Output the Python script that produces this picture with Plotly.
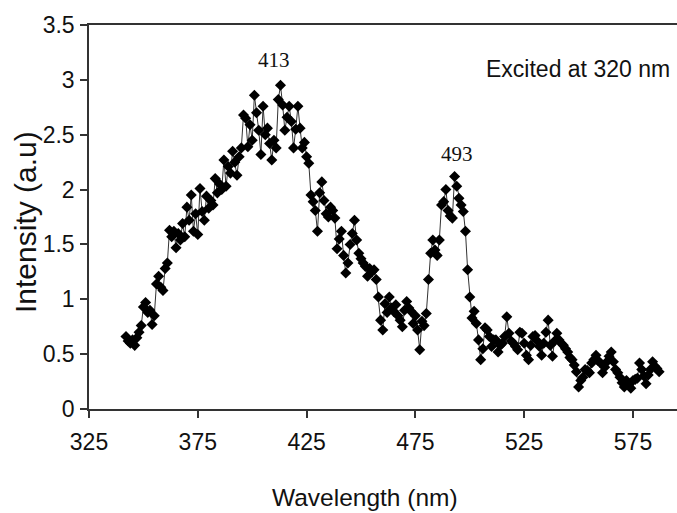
import plotly.graph_objects as go

wavelength = list(range(342, 588))
intensity = [
    0.66, 0.62, 0.60, 0.63, 0.58, 0.65, 0.70, 0.76, 0.93, 0.97,
    0.88, 0.90, 0.77, 0.85, 1.14, 1.21, 1.11, 1.08, 1.28, 1.33,
    1.63, 1.57, 1.62, 1.47, 1.60, 1.54, 1.69, 1.57, 1.84, 1.72,
    1.95, 1.62, 1.78, 1.59, 2.01, 1.80, 1.72, 1.94, 1.83, 1.90,
    1.86, 2.10, 1.97, 2.05, 2.00, 2.27, 2.03, 2.21, 2.15, 2.35,
    2.25, 2.13, 2.30, 2.38, 2.68, 2.65, 2.39, 2.59, 2.45, 2.86,
    2.70, 2.54, 2.32, 2.76, 2.50, 2.56, 2.42, 2.27, 2.45, 2.38,
    2.82, 2.95, 2.77, 2.54, 2.66, 2.76, 2.62, 2.38, 2.55, 2.76,
    2.56, 2.38, 2.43, 2.30, 2.24, 1.95, 1.89, 1.81, 1.62, 1.97,
    2.07, 1.90, 1.78, 1.75, 1.84, 1.81, 1.74, 1.46, 1.55, 1.62,
    1.40, 1.24, 1.33, 1.50, 1.60, 1.72, 1.54, 1.42, 1.37, 1.33,
    1.30, 1.21, 1.28, 1.25, 1.27, 1.18, 1.02, 0.81, 0.72, 0.96,
    0.88, 1.02, 0.92, 0.89, 0.95, 0.85, 0.81, 0.75, 0.90, 0.98,
    0.92, 0.89, 0.78, 0.85, 0.72, 0.54, 0.80, 0.76, 0.87, 1.18,
    1.42, 1.54, 1.45, 1.40, 1.54, 1.86, 1.89, 2.00, 1.81, 1.76,
    1.74, 2.12, 2.03, 1.92, 1.86, 1.80, 1.62, 1.27, 1.02, 0.83,
    0.89, 0.78, 0.63, 0.45, 0.55, 0.74, 0.72, 0.66, 0.57, 0.63,
    0.63, 0.52, 0.58, 0.60, 0.66, 0.84, 0.69, 0.62, 0.60, 0.57,
    0.54, 0.70, 0.69, 0.60, 0.49, 0.45, 0.58, 0.66, 0.67, 0.62,
    0.57, 0.49, 0.60, 0.70, 0.81, 0.58, 0.48, 0.62, 0.69, 0.63,
    0.60, 0.58, 0.55, 0.52, 0.47, 0.45, 0.40, 0.34, 0.20, 0.26,
    0.29, 0.36, 0.35, 0.33, 0.42, 0.45, 0.49, 0.44, 0.42, 0.33,
    0.38, 0.43, 0.48, 0.52, 0.43, 0.36, 0.33, 0.29, 0.24, 0.20,
    0.26, 0.22, 0.19, 0.26, 0.27, 0.28, 0.42, 0.36, 0.30, 0.23,
    0.31, 0.36, 0.43, 0.39, 0.37, 0.34,
]

x_ticks = [325, 375, 425, 475, 525, 575]
y_ticks = [0, 0.5, 1, 1.5, 2, 2.5, 3, 3.5]

peak_labels = ["413", "493"]
peak_label_x = [410, 494]
peak_label_y = [3.18, 2.32]

x_title = "Wavelength (nm)"
y_title = "Intensity (a.u)"
note = "Excited at 320 nm"

fig = go.Figure()
fig.add_trace(go.Scatter(
    x=wavelength, y=intensity, mode="lines+markers",
    line=dict(color="#333333", width=1),
    marker=dict(symbol="diamond", size=8.5, color="#000000"),
    showlegend=False, hoverinfo="skip",
))

sans = "Liberation Sans, Arial, sans-serif"
serif = "Liberation Serif, Times New Roman, serif"

annotations = []
for t, ax, ay in zip(peak_labels, peak_label_x, peak_label_y):
    annotations.append(dict(x=ax, y=ay, xref="x", yref="y", text=t, showarrow=False,
                            font=dict(family=serif, size=21, color="#111111")))

annotations.append(dict(x=1.0, y=(409 - 69) / 384, xref="paper", yref="paper", text=note,
                        showarrow=False, xanchor="right", yanchor="middle", xshift=-5,
                        font=dict(family=sans, size=23, color="#111111")))
annotations.append(dict(x=(365 - 89) / 588, y=(409 - 497) / 384, xref="paper", yref="paper",
                        text=x_title, showarrow=False, xanchor="center", yanchor="middle",
                        font=dict(family=sans, size=24.5, color="#111111")))
annotations.append(dict(x=(26 - 89) / 588, y=(409 - 222) / 384, xref="paper", yref="paper",
                        text=y_title, showarrow=False, textangle=-90, xanchor="center",
                        yanchor="middle", font=dict(family=sans, size=30, color="#111111")))

fig.update_layout(
    width=677, height=513,
    margin=dict(l=89, r=0, t=25, b=104),
    paper_bgcolor="white", plot_bgcolor="white",
    annotations=annotations,
    xaxis=dict(range=[325, 325 + 588 / 2.176], tickvals=x_ticks, ticks="outside", ticklen=7,
               tickwidth=1.5, tickcolor="#333333", showline=True, linecolor="#333333",
               linewidth=1.5, mirror=True, showgrid=False, zeroline=False,
               tickfont=dict(family=sans, size=23, color="#111111"), ticklabelstandoff=5),
    yaxis=dict(range=[0, 3.5], tickvals=y_ticks, ticks="outside", ticklen=7,
               tickwidth=1.5, tickcolor="#333333", showline=True, linecolor="#333333",
               linewidth=1.5, showgrid=False, zeroline=False,
               tickfont=dict(family=sans, size=23, color="#111111"), ticklabelstandoff=1),
)

fig.write_html("out.html", config={"displayModeBar": False},
               post_script="document.body.style.margin='0';document.body.style.padding='0';")
